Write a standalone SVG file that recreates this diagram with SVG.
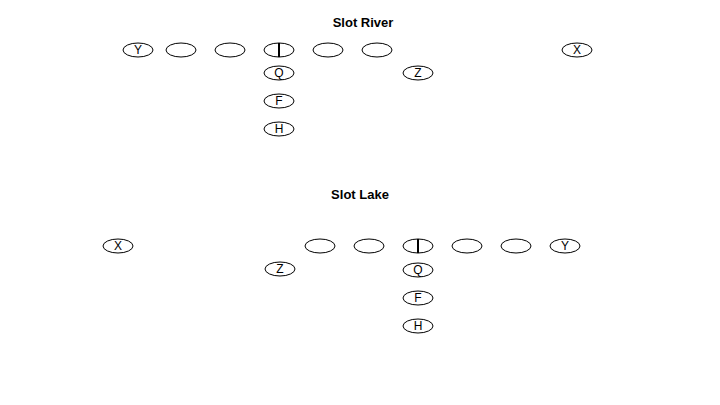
<svg xmlns="http://www.w3.org/2000/svg" width="720" height="405" viewBox="0 0 720 405">
<defs>
<style>
.p ellipse{fill:#fff;stroke:#000;stroke-width:1}
.p text{font-family:"Liberation Sans",Arial,sans-serif;font-size:12px;text-anchor:middle;fill:#000}
.t{font-family:"Liberation Sans",Arial,sans-serif;font-size:13px;font-weight:bold;text-anchor:middle;fill:#000}
.c{stroke:#000;stroke-width:2}
</style>
</defs>
<rect width="720" height="405" fill="#fff"/>
<text class="t" x="363" y="27">Slot River</text>
<text class="t" x="360" y="199">Slot Lake</text>
<g class="p">
<g id="r-y"><ellipse cx="138" cy="50" rx="15" ry="7"/><text x="138" y="54">Y</text></g>
<g id="r-lt"><ellipse cx="181" cy="50" rx="15" ry="7"/></g>
<g id="r-lg"><ellipse cx="230" cy="50" rx="15" ry="7"/></g>
<g id="r-c"><ellipse cx="279" cy="50" rx="15" ry="7"/><line class="c" x1="279" y1="43" x2="279" y2="57"/></g>
<g id="r-rg"><ellipse cx="328" cy="50" rx="15" ry="7"/></g>
<g id="r-rt"><ellipse cx="377" cy="50" rx="15" ry="7"/></g>
<g id="r-x"><ellipse cx="577" cy="50" rx="15" ry="7"/><text x="577" y="54">X</text></g>
<g id="r-z"><ellipse cx="418" cy="73" rx="15" ry="7"/><text x="418" y="77">Z</text></g>
<g id="r-q"><ellipse cx="279" cy="73" rx="15" ry="7"/><text x="279" y="77">Q</text></g>
<g id="r-f"><ellipse cx="279" cy="101" rx="15" ry="7"/><text x="279" y="105">F</text></g>
<g id="r-h"><ellipse cx="279" cy="129" rx="15" ry="7"/><text x="279" y="133">H</text></g>

<g id="l-x"><ellipse cx="118" cy="246" rx="15" ry="7"/><text x="118" y="250">X</text></g>
<g id="l-lt"><ellipse cx="320" cy="246" rx="15" ry="7"/></g>
<g id="l-lg"><ellipse cx="369" cy="246" rx="15" ry="7"/></g>
<g id="l-c"><ellipse cx="418" cy="246" rx="15" ry="7"/><line class="c" x1="418" y1="239" x2="418" y2="253"/></g>
<g id="l-rg"><ellipse cx="467" cy="246" rx="15" ry="7"/></g>
<g id="l-rt"><ellipse cx="516" cy="246" rx="15" ry="7"/></g>
<g id="l-y"><ellipse cx="565" cy="246" rx="15" ry="7"/><text x="565" y="250">Y</text></g>
<g id="l-z"><ellipse cx="280" cy="269" rx="15" ry="7"/><text x="280" y="273">Z</text></g>
<g id="l-q"><ellipse cx="418" cy="270" rx="15" ry="7"/><text x="418" y="274">Q</text></g>
<g id="l-f"><ellipse cx="418" cy="298" rx="15" ry="7"/><text x="418" y="302">F</text></g>
<g id="l-h"><ellipse cx="418" cy="326" rx="15" ry="7"/><text x="418" y="330">H</text></g>
</g>
<g id="connectors"></g>
</svg>
